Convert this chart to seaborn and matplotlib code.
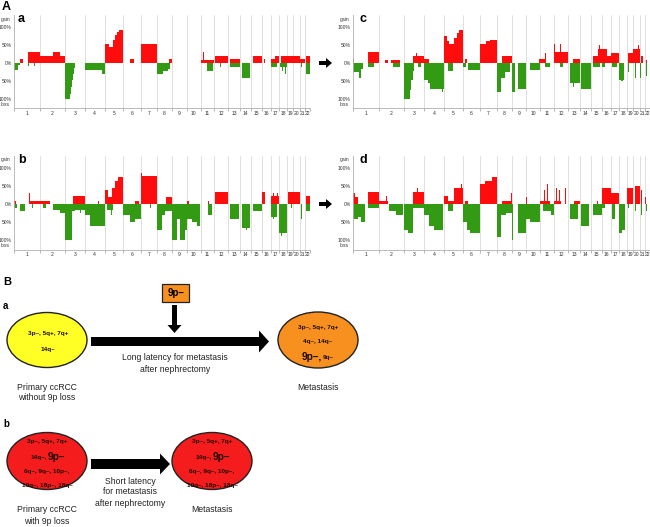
import numpy as np
import matplotlib
matplotlib.use('Agg')
import matplotlib.pyplot as plt
from matplotlib.patches import Ellipse, FancyArrow, Rectangle
import seaborn as sns

# chromosome sizes (Mb)
chrom_names = [str(i) for i in range(1, 23)]
chrom_len = [249, 243, 198, 191, 181, 171, 159, 146, 141, 136, 135, 134,
             115, 107, 103, 90, 81, 78, 59, 63, 48, 51]

# segments: (chromosome, start Mb, end Mb, % of cases)
a_gain = [(1, 58, 84, 12), (1, 140, 249, 33), (2, 0, 130, 22), (2, 130, 200, 33),
          (2, 200, 243, 22), (3, 158, 162, 10), (5, 0, 45, 55), (5, 45, 85, 45),
          (5, 85, 100, 65), (5, 100, 118, 78), (5, 118, 145, 86), (5, 145, 181, 93),
          (6, 67, 109, 12), (6, 125, 128, 10), (7, 5, 159, 55), (8, 115, 146, 12),
          (9, 135, 138, 10), (11, 0, 135, 10), (11, 25, 30, 33), (12, 5, 134, 22),
          (13, 15, 115, 12), (13, 100, 104, 22), (15, 20, 103, 22), (16, 25, 30, 12),
          (17, 0, 40, 12), (17, 40, 81, 22), (17, 38, 42, 30), (18, 15, 78, 22),
          (19, 0, 59, 22), (20, 0, 63, 22), (21, 0, 48, 12), (21, 18, 22, 33),
          (22, 15, 51, 22)]
a_loss = [(1, 0, 42, -18), (1, 42, 62, -5), (1, 140, 145, -8), (1, 196, 200, -8),
          (3, 0, 50, -100), (3, 50, 60, -85), (3, 60, 70, -65), (3, 70, 80, -45),
          (3, 80, 90, -28), (3, 90, 100, -12), (4, 0, 165, -18), (4, 165, 191, -28),
          (6, 28, 31, -30), (8, 0, 60, -28), (8, 60, 110, -22), (8, 110, 125, -15),
          (9, 135, 138, -20), (10, 108, 111, -10), (11, 60, 120, -20), (11, 62, 66, -28),
          (12, 55, 60, -10), (13, 15, 115, -10), (14, 20, 100, -40), (17, 0, 60, -10),
          (18, 5, 78, -10), (18, 30, 35, -20), (18, 60, 65, -28), (19, 25, 30, -30),
          (20, 15, 20, -15), (21, 15, 20, -10), (22, 14, 51, -28)]

b_gain = [(1, 0, 18, 10), (1, 150, 249, 10), (1, 150, 154, 30), (2, 0, 100, 10),
          (2, 60, 62, 30), (3, 85, 198, 22), (3, 110, 115, 30), (4, 130, 135, 10),
          (5, 0, 36, 40), (5, 36, 68, 20), (5, 68, 100, 45), (5, 100, 133, 65),
          (5, 133, 181, 75), (6, 25, 30, 10), (6, 115, 150, 10), (7, 0, 159, 78),
          (7, 5, 10, 85), (7, 105, 110, 90), (8, 90, 146, 20), (8, 140, 144, 45),
          (10, 0, 25, 10), (10, 98, 102, 20), (11, 75, 80, 10), (12, 5, 134, 33),
          (16, 0, 35, 33), (17, 0, 81, 22), (17, 20, 25, 30), (17, 60, 65, 30),
          (19, 5, 59, 33), (20, 0, 63, 33), (22, 14, 51, 22)]
b_loss = [(1, 0, 32, -10), (1, 58, 107, -18), (1, 171, 188, -10), (2, 30, 62, -10),
          (2, 135, 200, -15), (2, 200, 243, -25), (3, 0, 68, -100), (3, 68, 100, -20),
          (3, 100, 198, -15), (3, 150, 160, -25), (4, 0, 50, -30), (4, 50, 191, -60),
          (5, 20, 85, -15), (5, 60, 70, -30), (6, 0, 67, -30), (6, 67, 115, -50),
          (6, 115, 171, -40), (7, 90, 95, -10), (8, 0, 45, -70), (8, 45, 77, -30),
          (8, 77, 146, -20), (9, 0, 45, -100), (9, 45, 75, -40), (9, 75, 125, -100),
          (9, 125, 141, -70), (10, 8, 50, -40), (10, 50, 100, -50), (10, 100, 130, -60),
          (11, 70, 110, -30), (13, 18, 100, -40), (14, 20, 100, -65), (14, 60, 70, -70),
          (15, 15, 103, -18), (17, 0, 60, -35), (17, 20, 30, -40), (18, 0, 78, -80),
          (18, 20, 25, -88), (19, 40, 45, -10), (21, 10, 20, -40), (22, 14, 51, -18)]

c_gain = [(1, 0, 10, 12), (1, 146, 249, 33), (1, 146, 150, 65), (2, 60, 90, 10),
          (2, 115, 205, 10), (3, 90, 198, 22), (3, 120, 130, 30), (4, 0, 50, 12),
          (5, 0, 26, 75), (5, 26, 52, 62), (5, 52, 97, 55), (5, 97, 123, 70),
          (5, 123, 149, 85), (5, 149, 181, 93), (6, 20, 40, 12), (7, 0, 55, 55),
          (7, 55, 94, 62), (7, 94, 159, 65), (7, 100, 105, 75), (8, 48, 146, 22),
          (8, 130, 134, 45), (10, 120, 136, 12), (11, 0, 60, 12), (11, 5, 10, 30),
          (11, 50, 55, 30), (12, 0, 134, 33), (12, 0, 5, 55), (12, 60, 65, 55),
          (13, 45, 115, 12), (15, 25, 70, 22), (15, 70, 103, 40), (15, 80, 85, 50),
          (16, 0, 50, 40), (16, 20, 25, 50), (16, 50, 90, 22), (17, 0, 81, 28),
          (17, 20, 25, 45), (17, 50, 55, 50), (18, 5, 10, 10), (19, 10, 59, 30),
          (20, 0, 63, 40), (20, 50, 55, 50), (21, 10, 30, 20), (22, 10, 20, 10)]
c_loss = [(1, 0, 55, -25), (1, 55, 80, -40), (1, 80, 100, -15), (1, 146, 200, -10),
          (2, 140, 205, -10), (3, 0, 65, -100), (3, 65, 75, -75), (3, 75, 85, -45),
          (3, 85, 100, -20), (3, 140, 170, -10), (4, 0, 40, -45), (4, 40, 55, -55),
          (4, 55, 191, -72), (4, 170, 180, -80), (5, 40, 90, -20), (6, 0, 35, -10),
          (6, 55, 171, -18), (7, 15, 20, -10), (8, 0, 40, -80), (8, 40, 80, -40),
          (8, 80, 130, -25), (9, 0, 35, -80), (9, 65, 141, -70), (10, 35, 136, -18),
          (11, 45, 95, -10), (12, 55, 90, -10), (13, 20, 115, -55), (13, 50, 60, -65),
          (14, 15, 107, -72), (15, 25, 90, -10), (16, 0, 35, -10), (17, 10, 60, -10),
          (18, 0, 50, -45), (18, 20, 40, -50), (19, 10, 20, -25), (20, 15, 25, -40),
          (21, 5, 10, -40), (22, 15, 25, -35)]

d_gain = [(1, 0, 16, 30), (1, 16, 50, 20), (1, 146, 249, 33), (1, 146, 150, 55),
          (2, 0, 90, 10), (2, 75, 80, 22), (3, 50, 55, 20), (3, 90, 198, 33),
          (3, 130, 140, 45), (5, 0, 42, 22), (5, 42, 97, 10), (5, 97, 181, 45),
          (5, 170, 175, 55), (6, 25, 55, 10), (7, 0, 45, 55), (7, 45, 110, 65),
          (7, 110, 159, 75), (8, 48, 146, 10), (8, 140, 145, 30), (10, 0, 5, 20),
          (11, 0, 95, 10), (11, 5, 10, 60), (11, 40, 45, 40), (11, 70, 75, 55),
          (12, 0, 70, 10), (12, 20, 25, 45), (12, 50, 55, 40), (12, 103, 115, 45),
          (13, 55, 115, 10), (15, 55, 70, 10), (16, 0, 90, 45), (16, 20, 25, 55),
          (16, 50, 55, 55), (17, 0, 81, 30), (17, 30, 35, 45), (19, 0, 59, 45),
          (20, 15, 63, 50), (21, 15, 20, 40), (22, 5, 10, 20)]
d_loss = [(1, 0, 50, -40), (1, 50, 80, -35), (1, 80, 115, -50), (1, 146, 249, -10),
          (2, 100, 170, -20), (2, 170, 240, -30), (3, 0, 45, -70), (3, 45, 85, -80),
          (3, 90, 198, -10), (4, 0, 50, -30), (4, 50, 95, -60), (4, 95, 185, -70),
          (5, 40, 90, -20), (6, 0, 40, -50), (6, 40, 70, -70), (6, 70, 171, -80),
          (8, 0, 40, -90), (8, 40, 95, -30), (8, 95, 146, -25), (9, 5, 10, -100),
          (9, 65, 141, -80), (10, 0, 35, -40), (10, 35, 136, -50), (11, 30, 135, -20),
          (11, 100, 135, -30), (13, 20, 100, -40), (14, 15, 85, -60), (15, 20, 103, -30),
          (16, 0, 35, -10), (17, 10, 45, -40), (18, 0, 30, -80), (18, 30, 60, -70),
          (19, 10, 15, -10), (20, 15, 25, -20), (21, 15, 20, -30), (22, 15, 25, -20)]

sns.set_theme(style='white')
plt.rcParams['font.family'] = ['Liberation Sans', 'DejaVu Sans']

GAIN = '#ff0d0d'
LOSS = '#339a14'
offsets = np.concatenate([[0], np.cumsum(chrom_len)])
centers = offsets[:-1] + np.array(chrom_len) / 2


def draw_profile(ax, gains, losses):
    for segs, color in ((losses, LOSS), (gains, GAIN)):
        x = [offsets[c - 1] + s for c, s, e, v in segs]
        w = [e - s for c, s, e, v in segs]
        h = [v for c, s, e, v in segs]
        ax.bar(x, h, width=w, align='edge', color=color, linewidth=0, zorder=2)
    for b in offsets[1:-1]:
        ax.axvline(b, color='#d2d2d2', lw=0.5, zorder=1)
    ax.set_xlim(0, offsets[-1])
    ax.set_ylim(-125, 133)
    ax.set_yticks([100, 50, 0, -50, -100])
    ax.set_yticklabels(['100%', '50%', '0%', '50%', '100%'])
    ax.set_xticks(centers)
    ax.set_xticklabels(chrom_names)
    ax.set_xticks(offsets, minor=True)
    ax.tick_params(axis='both', which='major', length=0, labelsize=3.6,
                   pad=1.5, colors='#333333')
    ax.tick_params(axis='x', which='minor', bottom=True, length=2.5,
                   width=0.5, color='#999999')
    tr = ax.get_yaxis_transform()
    ax.text(-0.044, 122, 'gain', transform=tr, fontsize=3.6, color='#333333',
            ha='left', va='center')
    ax.text(-0.044, -114, 'loss', transform=tr, fontsize=3.6, color='#333333',
            ha='left', va='center')
    ax.set_facecolor('none')
    sns.despine(ax=ax)
    for s in ('left', 'bottom'):
        ax.spines[s].set_color('#b0b0b0')
        ax.spines[s].set_linewidth(0.6)


fig = plt.figure(figsize=(6.5, 5.27), dpi=100)
W, H = 650, 527
panels = [((14, 15.5, 296, 93), a_gain, a_loss),
          ((353, 15.5, 297, 93), c_gain, c_loss),
          ((14, 156, 296, 93.5), b_gain, b_loss),
          ((353, 156, 297, 93.5), d_gain, d_loss)]
for (x0, y0, w, h), g, l in panels:
    ax = fig.add_axes([x0 / W, 1 - (y0 + h) / H, w / W, h / H])
    draw_profile(ax, g, l)

# overlay in pixel coordinates for labels and diagram
ov = fig.add_axes([0, 0, 1, 1])
ov.set_xlim(0, W)
ov.set_ylim(H, 0)
ov.axis('off')
ov.patch.set_visible(False)

bold = dict(fontweight='bold', color='black')
ov.text(2, 7, 'A', fontsize=9, va='center', ha='left', **bold)
ov.text(18, 19, 'a', fontsize=9, va='center', ha='left', **bold)
ov.text(360, 19, 'c', fontsize=9, va='center', ha='left', **bold)
ov.text(18, 160, 'b', fontsize=9, va='center', ha='left', **bold)
ov.text(360, 160, 'd', fontsize=9, va='center', ha='left', **bold)

for yy in (63, 204):
    ov.add_patch(FancyArrow(319, yy, 13, 0, width=4, head_width=10, head_length=6,
                            length_includes_head=True, color='black', lw=0))

# part B
ov.text(3, 282, 'B', fontsize=8, va='center', ha='left', **bold)
ov.text(3, 306, 'a', fontsize=7, va='center', ha='left', **bold)
ov.text(3, 424, 'b', fontsize=7, va='center', ha='left', **bold)

ov.add_patch(Ellipse((47, 340), 80, 55, facecolor='#ffff26', edgecolor='#222222', lw=1))
ov.add_patch(Ellipse((318, 340), 80, 56, facecolor='#f7901e', edgecolor='#222222', lw=1))
ov.add_patch(Ellipse((47, 461), 80, 57, facecolor='#f41c1c', edgecolor='#222222', lw=1))
ov.add_patch(Ellipse((212, 461), 80, 57, facecolor='#f41c1c', edgecolor='#222222', lw=1))

ov.add_patch(FancyArrow(91, 341.5, 178, 0, width=9, head_width=22, head_length=10,
                        length_includes_head=True, color='black', lw=0))
ov.add_patch(FancyArrow(91, 464, 79, 0, width=10, head_width=21, head_length=10,
                        length_includes_head=True, color='black', lw=0))
ov.add_patch(FancyArrow(174.5, 305, 0, 28, width=5, head_width=14, head_length=8,
                        length_includes_head=True, color='black', lw=0))
ov.add_patch(Rectangle((162, 284), 27, 18, facecolor='#f7901e', edgecolor='#222222', lw=0.9))
ov.text(175.5, 293.5, '9p–', fontsize=7, va='center', ha='center', **bold)

small = dict(fontsize=4.6, fontweight='bold', color='#1a0a00', va='center')
big = dict(fontsize=7.3, fontweight='bold', color='#1a0a00', va='center')

ov.text(48, 333, '3p–, 5q+, 7q+', ha='center', **small)
ov.text(48, 350, '14q–', ha='center', **small)

ov.text(318, 327, '3p–, 5q+, 7q+', ha='center', **small)
ov.text(318, 342, '4q–, 14q–', ha='center', **small)
ov.text(322, 357, '9p–,', ha='right', **big)
ov.text(323, 357.5, '9q–', ha='left', **small)

for cx in (47, 212):
    ov.text(cx, 442, '3p–, 5q+, 7q+', ha='center', **small)
    ov.text(cx, 458, '14q–,', ha='right', **small)
    ov.text(cx + 1, 457.5, '9p–', ha='left', **big)
    ov.text(cx, 471, '6q–, 9q–, 10p–,', ha='center', **small)
    ov.text(cx, 486, '10q–, 18p–, 18q–', ha='center', **small)

lab = dict(fontsize=6.2, color='#222222', va='center', ha='center')
ov.text(175, 358, 'Long latency for metastasis', **lab)
ov.text(175, 369, 'after nephrectomy', **lab)
ov.text(47, 387, 'Primary ccRCC', **lab)
ov.text(47, 398, 'without 9p loss', **lab)
ov.text(318, 387, 'Metastasis', **lab)

ov.text(130, 481, 'Short latency', **lab)
ov.text(130, 492, 'for metastasis', **lab)
ov.text(130, 503, 'after nephrectomy', **lab)
ov.text(47, 510, 'Primary ccRCC', **lab)
ov.text(47, 521, 'with 9p loss', **lab)
ov.text(212, 510, 'Metastasis', **lab)

fig.savefig('out.png', dpi=100)
